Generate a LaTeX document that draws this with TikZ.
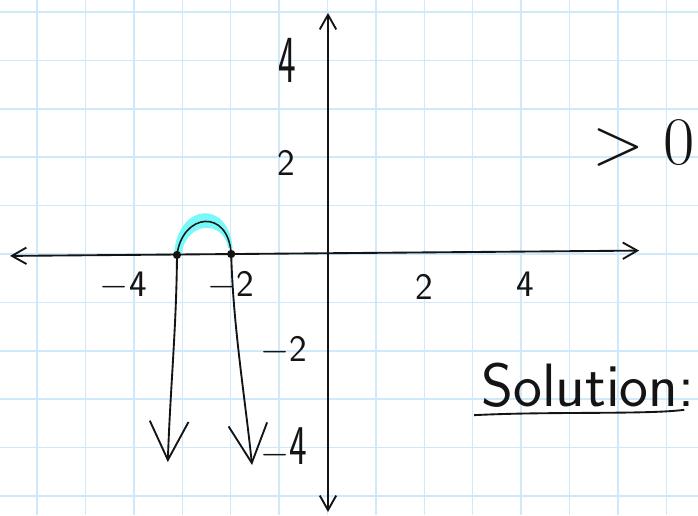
\RequirePackage{fix-cm}
\documentclass[tikz,border=0pt]{standalone}
\usepackage{tikz}
\usetikzlibrary{arrows.meta,positioning}
\definecolor{ink}{RGB}{20,20,20}
\definecolor{paper}{RGB}{206,234,250}
\definecolor{hilite}{RGB}{120,248,248}
\tikzset{
  gridline/.style={draw=paper,line width=0.9pt},
  axis/.style={ink,line width=1.1pt,
    {Straight Barb[length=3mm,width=3.4mm]}-{Straight Barb[length=3mm,width=3.4mm]}},
  branch/.style={ink,line width=1.1pt,-{Straight Barb[length=8mm,width=8mm]}},
  root/.style={circle,fill=ink,inner sep=0pt,minimum size=1.7mm},
  tick/.style={font=\sffamily\fontsize{22}{26}\selectfont,text=ink},
  note/.style={font=\sffamily\fontsize{36}{42}\selectfont,text=ink},
}

\begin{document}
\begin{tikzpicture}
  \useasboundingbox (-6.767,-5.393) rectangle (7.655,5.248);
  \fill[white] (-6.767,-5.393) rectangle (7.655,5.248);
  \draw[gridline,step=1] (-6.767,-5.393) grid (7.655,5.248);
  % axes
  \coordinate (xl) at (-6.56,-0.04);
  \coordinate (xr) at (6.44,0.07);
  \coordinate (yb) at (0.01,-5.33);
  \coordinate (yt) at (0.01,4.98);
  \draw[axis] (xl) -- (xr);
  \draw[axis] (yb) -- (yt);
  % part of the parabola above the axis, highlighted
  \fill[hilite] (-3.17,0) .. controls (-3.1,1.05) and (-2.05,1.15) .. (-1.96,0.12)
    -- (-2.05,0.12) .. controls (-2.15,0.7) and (-2.9,0.7) .. (-3.02,0) -- cycle;
  \node[root] (r1) at (-3.11,-0.02) {};
  \node[root] (r2) at (-1.99,0) {};
  \draw[ink,line width=0.9pt] (r1.center) .. controls (-3.0,0.85) and (-2.05,0.95) .. (r2.center);
  \coordinate (d1) at (-3.3,-4.3);
  \coordinate (d2) at (-1.56,-4.36);
  \draw[branch] (r1.center) .. controls (-3.12,-1.5) and (-3.25,-2.8) .. (d1);
  \draw[branch] (r2.center) .. controls (-1.95,-1.5) and (-1.7,-3.0) .. (d2);
  % tick labels
  \node[tick] (ya) at (-0.84,3.99) {\scalebox{1}[1.8]{4}};
  \node[tick] (yb2) at (-0.86,1.88) {2};
  \node[tick] (yc) at (-0.9,-2.0) {$-$2};
  \node[tick] (yd) at (-0.9,-4.0) {$-$\scalebox{1}[1.5]{4}};
  \node[tick] (xa) at (-4.22,-0.66) {$-$4};
  \node[tick] (xb) at (-2.0,-0.66) {$-$2};
  \node[tick] (xc) at (2.01,-0.68) {2};
  \node[tick] (xd) at (4.08,-0.62) {4};
  % notes
  \node[note,font=\fontsize{40}{46}\selectfont,anchor=west,inner sep=0pt] (gt) at (5.47,2.29) {$>0$};
  \node[note] (sol) at (5.38,-2.72) {Solution:};
  \coordinate (u1) at (3.03,-3.33);
  \coordinate (u2) at (7.37,-3.22);
  \draw[ink,line width=1.1pt] (u1) .. controls (4.6,-3.25) and (6.6,-3.32) .. (u2);
\end{tikzpicture}
\end{document}
